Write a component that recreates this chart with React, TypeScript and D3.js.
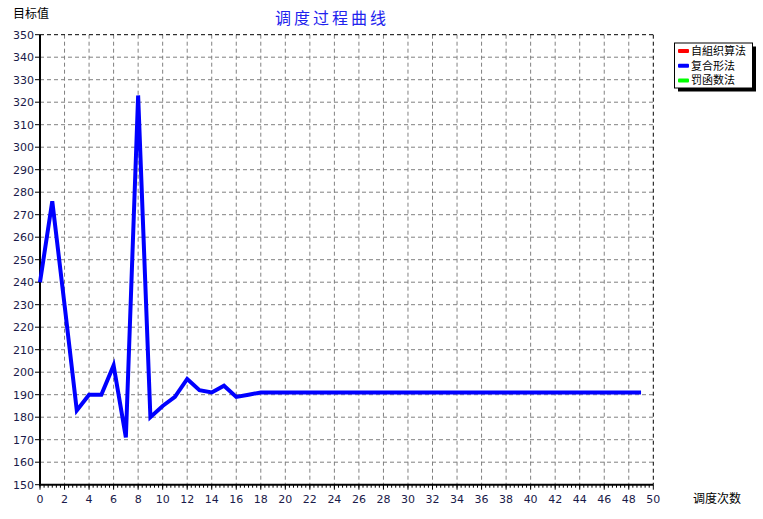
import React from "react";
import * as d3 from "d3";

const xTicks = [0, 2, 4, 6, 8, 10, 12, 14, 16, 18, 20, 22, 24, 26, 28, 30, 32, 34, 36, 38, 40, 42, 44, 46, 48, 50];
const yTicks = [150, 160, 170, 180, 190, 200, 210, 220, 230, 240, 250, 260, 270, 280, 290, 300, 310, 320, 330, 340, 350];
const steps = [0,1,2,3,4,5,6,7,8,9,10,11,12,13,14,15,16,17,18,19,20,21,22,23,24,25,26,27,28,29,30,31,32,33,34,35,36,37,38,39,40,41,42,43,44,45,46,47,48,49];
const blueValues = [240,276,230,183,190,190,203,171,323,180,185,189,197,192,191,194,189,190,191,191,191,191,191,191,191,191,191,191,191,191,191,191,191,191,191,191,191,191,191,191,191,191,191,191,191,191,191,191,191,191];
const legendNames = ["自組织算法", "复合形法", "罚函数法"];
const legendColors = ["#ff0000", "#0000ff", "#00ff00"];

const W = 763, H = 519;
const left = 40, right = 653.3, top = 34.7, bottom = 484.7;

export default function App() {
  const x = d3.scaleLinear().domain([0, 50]).range([left, right]);
  const y = d3.scaleLinear().domain([150, 350]).range([bottom, top]);
  const line = d3.line<number>().x((_, i) => x(steps[i])).y((d) => y(d));
  const minor = d3.range(0, 50, 1 / 3);
  const font = "'DejaVu Sans', 'Liberation Sans', sans-serif";
  const cjk = "'Noto Sans CJK SC', sans-serif";
  return (
    <svg width={W} height={H} style={{ position: "fixed", left: 0, top: 0, background: "#fff" }}>
      <rect x={0} y={0} width={W} height={H} fill="#fff" />
      <text x={332} y={24} textAnchor="middle" fontFamily={cjk} fontSize={16} letterSpacing={3} fill="#2222ee">调度过程曲线</text>
      <text x={13} y={18} fontFamily={cjk} fontSize={12} fill="#000">目标值</text>
      <text x={693} y={503} fontFamily={cjk} fontSize={12} fill="#000">调度次数</text>
      {xTicks.slice(1, -1).map((t) => (
        <line key={"gx" + t} x1={x(t)} x2={x(t)} y1={top} y2={bottom} stroke="#808080" strokeDasharray="4,3" />
      ))}
      {yTicks.slice(1, -1).map((t) => (
        <line key={"gy" + t} x1={left} x2={right} y1={y(t)} y2={y(t)} stroke="#808080" strokeDasharray="4,3" />
      ))}
      <line x1={left} x2={right} y1={top} y2={top} stroke="#000" strokeDasharray="4,3" />
      <line x1={right} x2={right} y1={top} y2={bottom} stroke="#000" strokeDasharray="4,3" />
      <line x1={left} x2={left} y1={top} y2={bottom + 1} stroke="#000" strokeWidth={2} />
      <line x1={left - 1} x2={right} y1={bottom} y2={bottom} stroke="#000" strokeWidth={2} />
      {minor.map((t, i) => (
        <line key={"mx" + i} x1={x(t)} x2={x(t)} y1={bottom} y2={bottom + 3} stroke="#000" />
      ))}
      {xTicks.map((t) => (
        <g key={"xt" + t}>
          <line x1={x(t)} x2={x(t)} y1={bottom} y2={bottom + 5} stroke="#000" />
          <text x={x(t)} y={bottom + 18} textAnchor="middle" fontFamily={font} fontSize={11} fill="#1a1a4a">{t}</text>
        </g>
      ))}
      {yTicks.map((t) => (
        <g key={"yt" + t}>
          <line x1={left - 5} x2={left} y1={y(t)} y2={y(t)} stroke="#000" />
          <text x={left - 6} y={y(t) + 4} textAnchor="end" fontFamily={font} fontSize={11} fill="#1a1a4a">{t}</text>
        </g>
      ))}
      <path d={line(blueValues) || ""} fill="none" stroke="#0000ff" strokeWidth={4} strokeLinejoin="miter" />
      <rect x={678} y={46.5} width={78} height={45} fill="#000" />
      <rect x={674.5} y={43} width={78} height={45} fill="#fff" stroke="#000" />
      {legendNames.map((n, i) => (
        <g key={n}>
          <rect x={678} y={49 + i * 14.7} width={11} height={4} fill={legendColors[i]} rx={1} />
          <text x={691} y={55 + i * 14.7} fontFamily={cjk} fontSize={11} fill="#000">{n}</text>
        </g>
      ))}
    </svg>
  );
}
